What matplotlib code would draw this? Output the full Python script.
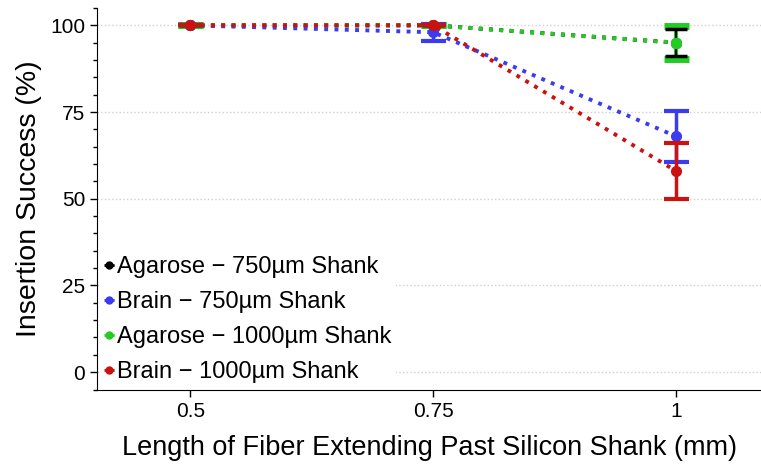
import matplotlib
matplotlib.use("Agg")
import matplotlib.pyplot as plt
from matplotlib.ticker import MultipleLocator
from matplotlib.lines import Line2D

plt.rcParams['font.family'] = ['Liberation Sans', 'DejaVu Sans']

x = [0.5, 0.75, 1.0]
labels = ["Agarose \u2212 750\u00b5m Shank", "Brain \u2212 750\u00b5m Shank",
          "Agarose \u2212 1000\u00b5m Shank", "Brain \u2212 1000\u00b5m Shank"]
colors = ["#000000", "#3b3bf0", "#22cc22", "#cc1111"]
agarose_750 = [100, 100, 95]
agarose_750_err = [0, 0, 3.9]
brain_750 = [100, 98, 68]
brain_750_err = [0, 2.5, 7.4]
agarose_1000 = [100, 100, 95]
agarose_1000_err = [0, 0, 4.7]
brain_1000 = [100, 100, 58]
brain_1000_err = [0, 0, 8]

fig = plt.figure(figsize=(7.61, 4.69), dpi=100)
ax = fig.add_axes([0.1275, 0.168, 0.8725, 0.815])

lw = 2.8
ms = 7
ax.plot(x, agarose_750, color=colors[0], marker='o', markersize=ms, linestyle=':', linewidth=lw, zorder=2)
ax.errorbar(x, agarose_1000, yerr=agarose_1000_err, color=colors[2], marker='o', markersize=ms,
            linestyle=':', linewidth=lw, capsize=9, capthick=5, elinewidth=3, zorder=3)
ax.errorbar(x, agarose_750, yerr=agarose_750_err, color=colors[0], linestyle='none',
            capsize=8, capthick=2.5, elinewidth=1.5, zorder=4)
ax.plot(x[2:], agarose_1000[2:], color=colors[2], marker='o', markersize=ms, linestyle='none', zorder=4.5)
ax.errorbar(x, brain_750, yerr=brain_750_err, color=colors[1], marker='o', markersize=ms,
            linestyle=':', linewidth=lw, capsize=9, capthick=3, elinewidth=2.5, zorder=5)
ax.errorbar(x, brain_1000, yerr=brain_1000_err, color=colors[3], marker='o', markersize=ms,
            linestyle=':', linewidth=lw, capsize=9, capthick=3, elinewidth=2.5, zorder=6)

ax.set_xlim(0.404, 1.0874)
ax.set_ylim(-5.2, 105)
ax.set_xticks(x)
ax.set_xticklabels(["0.5", "0.75", "1"])
ax.set_yticks([0, 25, 50, 75, 100])
ax.yaxis.set_minor_locator(MultipleLocator(5))
ax.tick_params(axis='both', labelsize=15, direction='out', length=5, width=1)
ax.tick_params(axis='y', which='minor', length=3, width=1)
ax.tick_params(axis='x', which='minor', bottom=False)
for s in ['top', 'right']:
    ax.spines[s].set_visible(False)
ax.grid(axis='y', which='major', linestyle=':', color='#d0d0d0', linewidth=1)
ax.set_axisbelow(True)
ax.set_xlabel("Length of Fiber Extending Past Silicon Shank (mm)", fontsize=19.5, labelpad=10)
ax.set_ylabel("Insertion Success (%)", fontsize=20.5, labelpad=6)

handles = [Line2D([], [], color=c, marker='o', markersize=5, linestyle=':', linewidth=2)
           for c in colors]
leg = ax.legend(handles, labels, loc='lower left', frameon=True,
                fontsize=17, handlelength=0.45, handletextpad=0.1, borderaxespad=0.1,
                labelspacing=0.55, borderpad=0.2)
leg.get_frame().set_edgecolor('none')
leg.get_frame().set_facecolor('white')
leg.get_frame().set_alpha(1)

fig.savefig("out.png", dpi=100)
